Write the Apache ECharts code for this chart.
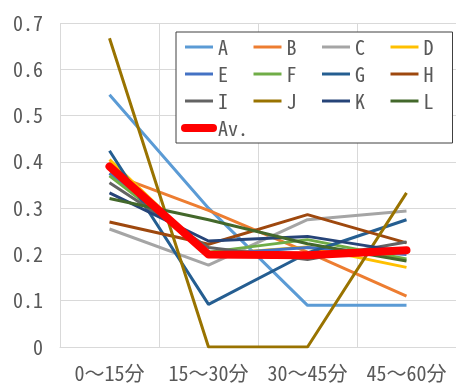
<!DOCTYPE html>
<html>
<head>
<meta charset="utf-8">
<script src="https://cdn.jsdelivr.net/npm/echarts@6/dist/echarts.min.js"></script>
<style>
  html, body { margin: 0; padding: 0; background: #fff; }
  #chart { width: 456px; height: 385px; }
</style>
</head>
<body>
<div id="chart"></div>
<script>
// Time bands on the x axis
const categories = ['0～15分', '15～30分', '30～45分', '45～60分'];

// Ratio per time band for each subject
const seriesA = [0.545, 0.300, 0.090, 0.090];
const seriesB = [0.375, 0.295, 0.205, 0.110];
const seriesC = [0.255, 0.177, 0.275, 0.294];
const seriesD = [0.405, 0.200, 0.216, 0.172];
const seriesE = [0.375, 0.200, 0.215, 0.200];
const seriesF = [0.370, 0.205, 0.232, 0.190];
const seriesG = [0.424, 0.092, 0.203, 0.275];
const seriesH = [0.270, 0.222, 0.286, 0.225];
const seriesI = [0.355, 0.215, 0.189, 0.227];
const seriesJ = [0.667, 0.000, 0.000, 0.333];
const seriesK = [0.333, 0.229, 0.239, 0.205];
const seriesL = [0.321, 0.275, 0.223, 0.186];
const seriesAv = [0.390, 0.200, 0.198, 0.209];

// Y axis tick values
const yTicks = [0, 0.1, 0.2, 0.3, 0.4, 0.5, 0.6, 0.7];

const FONT = "'Noto Sans Mono CJK JP', 'Noto Sans CJK JP', sans-serif";
const TEXT = '#595959';
const GRID = '#d9d9d9';

const lines = [
  ['A', seriesA, '#5B9BD5'],
  ['B', seriesB, '#ED7D31'],
  ['C', seriesC, '#A5A5A5'],
  ['D', seriesD, '#FFC000'],
  ['E', seriesE, '#4472C4'],
  ['F', seriesF, '#70AD47'],
  ['G', seriesG, '#255E91'],
  ['H', seriesH, '#9E480E'],
  ['I', seriesI, '#636363'],
  ['J', seriesJ, '#997300'],
  ['K', seriesK, '#264478'],
  ['L', seriesL, '#43682B']
];

const series = lines.map(([name, data, color]) => ({
  name: name,
  type: 'line',
  data: data,
  symbol: 'none',
  color: color,
  lineStyle: { width: 3, color: color },
  emphasis: { disabled: true }
}));

series.push({
  name: 'Av.',
  type: 'line',
  data: seriesAv,
  symbol: 'none',
  color: '#FF0000',
  lineStyle: { width: 8, color: '#FF0000', cap: 'round', join: 'round' },
  emphasis: { disabled: true },
  z: 5
});

const chart = echarts.init(document.getElementById('chart'), null, { renderer: 'canvas' });

chart.setOption({
  animation: false,
  backgroundColor: '#ffffff',
  grid: { left: 60, top: 23, width: 404, height: 324, containLabel: false },
  legend: {
    left: 176,
    top: 32,
    width: 300,
    orient: 'horizontal',
    padding: [4, 0, 4, 5],
    itemGap: 5,
    itemWidth: 28,
    // a tiny item height keeps the legend glyph a plain stroke
    itemHeight: 0.5,
    lineStyle: { width: 'inherit', cap: 'inherit' },
    backgroundColor: '#ffffff',
    borderColor: '#404040',
    borderWidth: 1,
    textStyle: {
      fontFamily: FONT,
      fontSize: 20,
      color: TEXT,
      width: 29,
      lineHeight: 22
    },
    data: lines.map(l => l[0]).concat(['Av.'])
  },
  xAxis: {
    type: 'category',
    data: categories,
    boundaryGap: true,
    axisLine: { show: true, lineStyle: { color: GRID, width: 1 } },
    axisTick: { show: false },
    splitLine: { show: true, lineStyle: { color: GRID, width: 1 } },
    axisLabel: {
      fontFamily: FONT,
      fontSize: 20,
      color: TEXT,
      margin: 16,
      interval: 0
    }
  },
  yAxis: {
    type: 'value',
    min: yTicks[0],
    max: yTicks[yTicks.length - 1],
    interval: 0.1,
    axisLine: { show: false },
    axisTick: { show: false },
    splitLine: { show: true, lineStyle: { color: GRID, width: 1 } },
    axisLabel: {
      fontFamily: FONT,
      fontSize: 20,
      color: TEXT,
      margin: 17,
      formatter: v => String(Math.round(v * 10) / 10)
    }
  },
  series: series
});
</script>
</body>
</html>
